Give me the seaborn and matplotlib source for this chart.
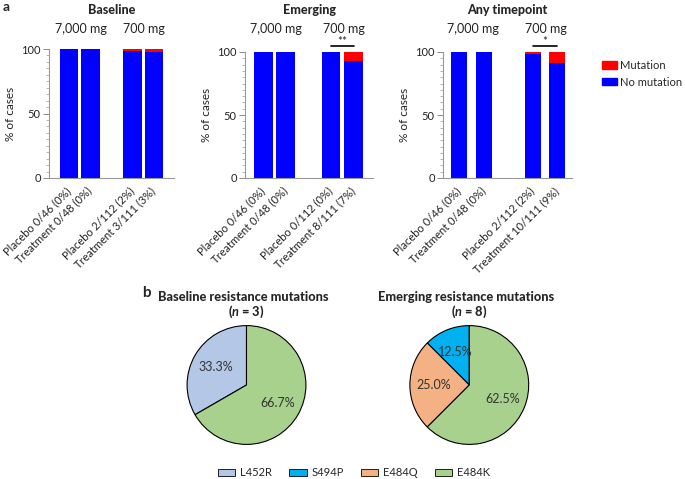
import pandas as pd
import seaborn as sns
import matplotlib.pyplot as plt
from matplotlib.patches import Patch
from matplotlib.ticker import MultipleLocator
import matplotlib.transforms as mtransforms

# ---- data ----
panels = ["Baseline", "Emerging", "Any timepoint"]
doses = ["7,000 mg", "700 mg"]
groups = ["Placebo", "Treatment", "Placebo", "Treatment"]
totals = [46, 48, 112, 111]
mut_baseline = [0, 0, 2, 3]
mut_emerging = [0, 0, 0, 8]
mut_any = [0, 0, 2, 10]
significance = [None, "**", "*"]

mutations = ["L452R", "S494P", "E484Q", "E484K"]
baseline_counts = [1, 0, 0, 2]
emerging_counts = [0, 1, 2, 5]
pie_titles = ["Baseline resistance mutations", "Emerging resistance mutations"]

# ---- style ----
sns.set_style("ticks")
plt.rcParams["font.family"] = ["Lato", "DejaVu Sans"]
plt.rcParams["mathtext.fontset"] = "custom"
plt.rcParams["mathtext.rm"] = "Lato"
plt.rcParams["mathtext.it"] = "Lato:italic"
plt.rcParams["mathtext.bf"] = "Lato:bold"
plt.rcParams["mathtext.bfit"] = "Lato:italic:bold"

RED, BLUE = "#ff0000", "#0000ff"
mut_colors = ["#b4c7e7", "#00b0f0", "#f4b183", "#a9d18e"]
positions = [0, 1, 3, 4]

W, H = 685, 479
fig = plt.figure(figsize=(W / 100, H / 100), dpi=100)


def box(l, t, r, b):
    return [l / W, 1 - b / H, (r - l) / W, (b - t) / H]


bar_layout = [
    dict(box=box(49, 49, 174, 178), width=0.88, xlim=(-0.95, 4.95)),
    dict(box=box(245, 52, 373, 178), width=0.83, xlim=(-0.8, 4.85)),
    dict(box=box(443, 52, 572, 178), width=0.65, xlim=(-0.67, 4.6)),
]
label_shift = mtransforms.ScaledTranslation(2.5 / 72, 0, fig.dpi_scale_trans)

for title, muts, sig, lay in zip(panels, [mut_baseline, mut_emerging, mut_any],
                                 significance, bar_layout):
    ax = fig.add_axes(lay["box"])
    pct = [100 * m / n for m, n in zip(muts, totals)]
    df = pd.DataFrame({"pos": positions, "total": 100.0,
                       "no_mut": [100 - p for p in pct]})
    sns.barplot(data=df, x="pos", y="total", native_scale=True, color=RED,
                width=lay["width"], saturation=1, errorbar=None, linewidth=0, ax=ax)
    sns.barplot(data=df, x="pos", y="no_mut", native_scale=True, color=BLUE,
                width=lay["width"], saturation=1, errorbar=None, linewidth=0, ax=ax)

    labels = [f"{g} {m}/{n} ({round(p)}%)" for g, m, n, p in zip(groups, muts, totals, pct)]
    ax.set_xticks(positions)
    ax.set_xticklabels(labels, rotation=45, ha="right", va="center",
                       rotation_mode="anchor", fontsize=8, color="#222")
    for lbl in ax.get_xticklabels():
        lbl.set_transform(lbl.get_transform() + label_shift)
    ax.set_xlim(*lay["xlim"])
    ax.set_ylim(0, 100)
    ax.set_yticks([0, 50, 100])
    ax.yaxis.set_minor_locator(MultipleLocator(5))
    ax.tick_params(axis="x", length=0, pad=8)
    ax.tick_params(axis="y", which="major", length=4, width=0.6, color="#777",
                   labelsize=8, pad=2, labelcolor="#222")
    ax.tick_params(axis="y", which="minor", length=2, width=0.5, color="#999")
    ax.set_xlabel("")
    ax.set_ylabel("% of cases", fontsize=8.5, color="#222", labelpad=4)
    sns.despine(ax=ax)
    for s in ["left", "bottom"]:
        ax.spines[s].set_color("#999")
        ax.spines[s].set_linewidth(0.8)

    tr = mtransforms.blended_transform_factory(ax.transAxes, fig.transFigure)
    ax.text(0.5, 1 - 10 / H, title, transform=tr, ha="center", va="center",
            fontsize=9, fontweight="black")
    trd = mtransforms.blended_transform_factory(ax.transData, fig.transFigure)
    for x, d in zip([0.55, 3.55], doses):
        ax.text(x, 1 - 29 / H, d, transform=trd, ha="center", va="center",
                fontsize=9, color="#222")
    if sig:
        ax.plot([3, 4], [104.8, 104.8], color="black", lw=1.2, clip_on=False)
        ax.text(3.5, 104, sig, ha="center", va="bottom", fontsize=8.5, clip_on=False)

fig.legend(handles=[Patch(color=RED, label="Mutation"), Patch(color=BLUE, label="No mutation")],
           loc="upper left", bbox_to_anchor=(592 / W, 1 - 50 / H), frameon=False,
           fontsize=8, handlelength=1.35, handleheight=0.65, handletextpad=0.25,
           labelspacing=0.5)

# ---- pies ----
pie_centers = [(246.5, 385), (469.3, 385)]
ns = [sum(baseline_counts), sum(emerging_counts)]
for (cx, cy), counts, ttl, n in zip(pie_centers, [baseline_counts, emerging_counts],
                                    pie_titles, ns):
    ax = fig.add_axes(box(cx - 60, cy - 60, cx + 60, cy + 60))
    vals = [c for c in counts if c > 0]
    cols = [col for c, col in zip(counts, mut_colors) if c > 0]
    ax.pie(vals, colors=cols, startangle=90, counterclock=True, autopct="%.1f%%",
           pctdistance=0.6, radius=1,
           wedgeprops=dict(edgecolor="black", linewidth=0.8),
           textprops=dict(fontsize=9, color="#333"))
    ax.set_xlim(-1.01, 1.01)
    ax.set_ylim(-1.01, 1.01)
    ax.set_aspect("auto")
    fig.text((cx - 3) / W, 1 - 297 / H, ttl, ha="center", va="center",
             fontsize=9.2, fontweight="black")
    fig.text(cx / W, 1 - 312 / H, rf"($\mathbfit{{n}}$ = {n})", ha="center", va="center",
             fontsize=9.2, fontweight="black")

fig.legend(handles=[Patch(facecolor=c, edgecolor="black", linewidth=0.6, label=m)
                    for m, c in zip(mutations, mut_colors)],
           loc="center", bbox_to_anchor=(354 / W, 1 - 473 / H), ncol=4, frameon=False,
           fontsize=8, handlelength=1.6, handleheight=0.65, handletextpad=0.45,
           columnspacing=1.5)

fig.text(3 / W, 1 - 7 / H, "a", fontsize=10, fontweight="bold", va="center")
fig.text(142 / W, 1 - 293 / H, "b", fontsize=11, fontweight="bold", va="center")

fig.savefig("out.png", dpi=100)
